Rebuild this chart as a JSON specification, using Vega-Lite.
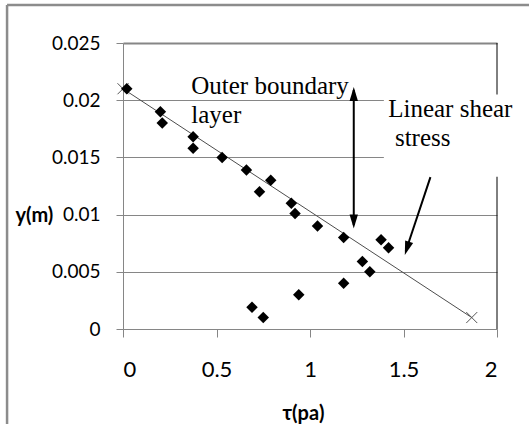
{
  "$schema": "https://vega.github.io/schema/vega-lite/v6.json",
  "autosize": "none",
  "width": 374,
  "height": 286,
  "padding": {"left": 123, "top": 43, "right": 32, "bottom": 95},
  "background": "white",
  "config": {
    "view": {"stroke": null},
    "axis": {
      "labelFont": "Lato",
      "titleFont": "Lato",
      "labelColor": "#000000",
      "titleColor": "#000000",
      "domainColor": "#868686",
      "tickColor": "#868686",
      "gridColor": "#868686"
    }
  },
  "datasets": {
    "pts": [
      {"tau": 0.02, "y": 0.021},
      {"tau": 0.2, "y": 0.019},
      {"tau": 0.21, "y": 0.018},
      {"tau": 0.375, "y": 0.0168},
      {"tau": 0.375, "y": 0.0158},
      {"tau": 0.53, "y": 0.015},
      {"tau": 0.66, "y": 0.0139},
      {"tau": 0.79, "y": 0.013},
      {"tau": 0.73, "y": 0.012},
      {"tau": 0.9, "y": 0.011},
      {"tau": 0.92, "y": 0.0101},
      {"tau": 1.04, "y": 0.009},
      {"tau": 1.18, "y": 0.008},
      {"tau": 1.38, "y": 0.0078},
      {"tau": 1.42, "y": 0.0071},
      {"tau": 1.28, "y": 0.0059},
      {"tau": 1.32, "y": 0.005},
      {"tau": 1.18, "y": 0.004},
      {"tau": 0.94, "y": 0.003},
      {"tau": 0.69, "y": 0.0019},
      {"tau": 0.75, "y": 0.001}
    ],
    "trend": [
      {"tau": 0, "y": 0.021},
      {"tau": 1.865, "y": 0.001}
    ],
    "frame": [
      {"x": -0.62, "x2": 2.2, "y": 0.02832, "y2": 0.02832},
      {"x": -0.62, "x2": -0.62, "y": 0.02832, "y2": -0.009}
    ],
    "border": [
      {"x": 2, "x2": 2, "y": 0, "y2": 0.025}
    ],
    "box": [
      {"x": 1.395, "x2": 2.15, "y": 0.0133, "y2": 0.0205}
    ],
    "shafts": [
      {"x": 1.234, "x2": 1.234, "y": 0.0209, "y2": 0.0091},
      {"x": 1.644, "x2": 1.512, "y": 0.01327, "y2": 0.0068}
    ],
    "heads": [
      {"x": 1.234, "y": 0.02116, "angle": 0},
      {"x": 1.234, "y": 0.00879, "angle": 180},
      {"x": 1.507, "y": 0.00646, "angle": 198}
    ],
    "labels": [
      {"x": 0.365, "y": 0.02058, "text": "Outer boundary"},
      {"x": 0.365, "y": 0.01799, "text": "layer"},
      {"x": 1.418, "y": 0.01854, "text": "Linear shear"},
      {"x": 1.454, "y": 0.01598, "text": "stress"}
    ]
  },
  "layer": [
    {
      "data": {"name": "frame"},
      "mark": {"type": "rule", "color": "#8c8c8c", "strokeWidth": 2.5, "clip": false},
      "encoding": {
        "x": {"field": "x", "type": "quantitative", "scale": {"domain": [0, 2], "nice": false, "zero": false},
          "axis": {
            "values": [0, 0.5, 1, 1.5, 2],
            "labelExpr": "datum.value + ''",
            "grid": false,
            "tickSize": 8,
            "labelFontSize": 22,
            "labelPadding": 22,
            "title": "τ(pa)",
            "titleFontSize": 20,
            "titleFontWeight": "bold",
            "titleX": 180,
            "titleY": 84,
            "titleBaseline": "middle"
          }},
        "x2": {"field": "x2"},
        "y": {"field": "y", "type": "quantitative", "scale": {"domain": [0, 0.025], "nice": false, "zero": false},
          "axis": {
            "values": [0, 0.005, 0.01, 0.015, 0.02, 0.025],
            "labelExpr": "datum.value + ''",
            "grid": true,
            "gridWidth": {"condition": {"test": "datum.value === 0.025", "value": 2}, "value": 1},
            "tickSize": 7,
            "labelFontSize": 19,
            "labelPadding": 16,
            "title": "y(m)",
            "titleAngle": 0,
            "titleFontSize": 20,
            "titleFontWeight": "bold",
            "titleAlign": "left",
            "titleBaseline": "middle",
            "titleX": -108,
            "titleY": 172
          }},
        "y2": {"field": "y2"}
      }
    },
    {
      "data": {"name": "border"},
      "mark": {"type": "rule", "color": "#000000", "strokeWidth": 1},
      "encoding": {
        "x": {"field": "x", "type": "quantitative"},
        "x2": {"field": "x2"},
        "y": {"field": "y", "type": "quantitative"},
        "y2": {"field": "y2"}
      }
    },
    {
      "data": {"name": "box"},
      "mark": {"type": "rect", "fill": "#ffffff", "clip": false},
      "encoding": {
        "x": {"field": "x", "type": "quantitative"},
        "x2": {"field": "x2"},
        "y": {"field": "y", "type": "quantitative"},
        "y2": {"field": "y2"}
      }
    },
    {
      "data": {"name": "trend"},
      "mark": {"type": "line", "color": "#4d4d4d", "strokeWidth": 1},
      "encoding": {
        "x": {"field": "tau", "type": "quantitative"},
        "y": {"field": "y", "type": "quantitative"}
      }
    },
    {
      "data": {"name": "trend"},
      "mark": {"type": "point", "shape": "M-1,-1L1,1M-1,1L1,-1", "size": 121, "filled": false, "stroke": "#555555", "strokeWidth": 1, "opacity": 1, "clip": false},
      "encoding": {
        "x": {"field": "tau", "type": "quantitative"},
        "y": {"field": "y", "type": "quantitative"}
      }
    },
    {
      "data": {"name": "pts"},
      "mark": {"type": "point", "shape": "diamond", "size": 132, "filled": true, "color": "#000000", "opacity": 1},
      "encoding": {
        "x": {"field": "tau", "type": "quantitative"},
        "y": {"field": "y", "type": "quantitative"}
      }
    },
    {
      "data": {"name": "shafts"},
      "mark": {"type": "rule", "color": "#000000", "strokeWidth": 2},
      "encoding": {
        "x": {"field": "x", "type": "quantitative"},
        "x2": {"field": "x2"},
        "y": {"field": "y", "type": "quantitative"},
        "y2": {"field": "y2"}
      }
    },
    {
      "data": {"name": "heads"},
      "mark": {"type": "point", "shape": "M0,0L0.6,2L-0.6,2Z", "size": 196, "filled": true, "color": "#000000", "opacity": 1},
      "encoding": {
        "x": {"field": "x", "type": "quantitative"},
        "y": {"field": "y", "type": "quantitative"},
        "angle": {"field": "angle", "type": "quantitative", "scale": null}
      }
    },
    {
      "data": {"name": "labels"},
      "mark": {"type": "text", "font": "Liberation Serif", "fontSize": 25, "align": "left", "baseline": "alphabetic", "color": "#000000", "clip": false},
      "encoding": {
        "x": {"field": "x", "type": "quantitative"},
        "y": {"field": "y", "type": "quantitative"},
        "text": {"field": "text"}
      }
    }
  ]
}
